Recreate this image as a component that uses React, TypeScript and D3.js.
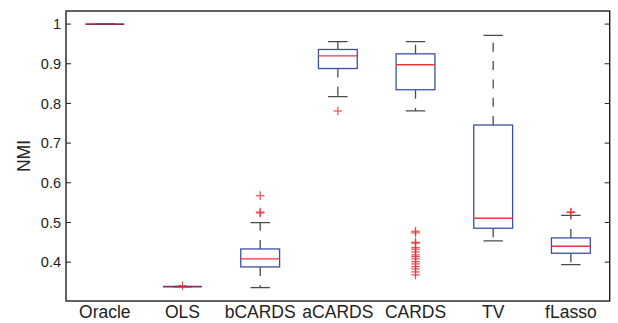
import React from "react";
import * as d3 from "d3";

// Methods compared, in plotting order
const methods = ["Oracle", "OLS", "bCARDS", "aCARDS", "CARDS", "TV", "fLasso"];

// Five-number summaries per method (whisker ends, quartiles, median)
const lowerWhisker = [1.0, 0.3383, 0.3358, 0.817, 0.781, 0.4534, 0.3937];
const lowerQuartile = [1.0, 0.3383, 0.3879, 0.888, 0.8345, 0.4854, 0.4224];
const medians = [1.0, 0.3383, 0.408, 0.92, 0.8975, 0.5106, 0.44];
const upperQuartile = [1.0, 0.3383, 0.4332, 0.936, 0.925, 0.7456, 0.461];
const upperWhisker = [1.0, 0.3383, 0.4995, 0.956, 0.956, 0.9715, 0.518];

// Points beyond the whiskers
const outliers: number[][] = [
  [],
  [0.3405],
  [0.5675, 0.526, 0.524],
  [0.781],
  [
    0.4778, 0.4736, 0.4501, 0.4476, 0.4365, 0.4325, 0.4257, 0.4181, 0.4139,
    0.4081, 0.4013, 0.3955, 0.3887, 0.3829, 0.3753, 0.3678,
  ],
  [],
  [0.5265, 0.525],
];

const yTicks = [0.4, 0.5, 0.6, 0.7, 0.8, 0.9, 1];
const yLabel = "NMI";

const W = 618;
const H = 323;
const plot = { left: 66, right: 609.7, top: 11, bottom: 301 };

const BOX = "#3b4fa6";
const MED = "#e8383f";
const WHISK = "#4a4a4a";
const OUT = "#ee2d36";
const COLLAPSED = "#8c2d5c";
const AXIS = "#1e1e1e";
const FONT = "'Liberation Sans', Arial, Helvetica, sans-serif";

export default function App() {
  const x = d3
    .scalePoint<string>()
    .domain(methods)
    .range([plot.left, plot.right])
    .padding(0.5);
  const y = d3.scaleLinear().domain([0.302, 1.033]).range([plot.bottom, plot.top]);
  const step = x.step();
  const halfBox = step * 0.25;
  const halfCap = step * 0.125;
  const plus = 4.3;

  return (
    <svg
      width={W}
      height={H}
      style={{ position: "absolute", left: 0, top: 0, background: "#fff" }}
      fontFamily={FONT}
    >
      <defs>
        <clipPath id="plotClip">
          <rect
            x={plot.left}
            y={plot.top}
            width={plot.right - plot.left}
            height={plot.bottom - plot.top}
          />
        </clipPath>
      </defs>

      {/* boxes */}
      <g clipPath="url(#plotClip)">
        {methods.map((m, i) => {
          const cx = x(m) as number;
          const yq1 = y(lowerQuartile[i]);
          const yq3 = y(upperQuartile[i]);
          const ylo = y(lowerWhisker[i]);
          const yhi = y(upperWhisker[i]);
          const ymed = y(medians[i]);
          const collapsed = Math.abs(yq1 - yq3) < 0.5;
          return (
            <g key={m}>
              {/* whiskers */}
              {yhi < yq3 - 0.5 && (
                <line
                  x1={cx}
                  x2={cx}
                  y1={yq3}
                  y2={yhi}
                  stroke={WHISK}
                  strokeWidth={1.3}
                  strokeDasharray="9 9.3"
                />
              )}
              {ylo > yq1 + 0.5 && (
                <line
                  x1={cx}
                  x2={cx}
                  y1={yq1}
                  y2={ylo}
                  stroke={WHISK}
                  strokeWidth={1.3}
                  strokeDasharray="9 9.3"
                />
              )}
              <line x1={cx - halfCap} x2={cx + halfCap} y1={yhi} y2={yhi} stroke={WHISK} strokeWidth={1.3} />
              <line x1={cx - halfCap} x2={cx + halfCap} y1={ylo} y2={ylo} stroke={WHISK} strokeWidth={1.3} />
              {collapsed ? (
                <line
                  x1={cx - halfBox}
                  x2={cx + halfBox}
                  y1={ymed}
                  y2={ymed}
                  stroke={COLLAPSED}
                  strokeWidth={1.8}
                />
              ) : (
                <>
                  <rect
                    x={cx - halfBox}
                    y={yq3}
                    width={halfBox * 2}
                    height={yq1 - yq3}
                    fill="none"
                    stroke={BOX}
                    strokeWidth={1.3}
                  />
                  <line
                    x1={cx - halfBox}
                    x2={cx + halfBox}
                    y1={ymed}
                    y2={ymed}
                    stroke={MED}
                    strokeWidth={1.3}
                  />
                </>
              )}
              {outliers[i].map((v, k) => (
                <g key={k} stroke={OUT} strokeWidth={1.2} opacity={0.85}>
                  <line x1={cx - plus} x2={cx + plus} y1={y(v)} y2={y(v)} />
                  <line x1={cx} x2={cx} y1={y(v) - plus} y2={y(v) + plus} />
                </g>
              ))}
            </g>
          );
        })}
      </g>

      {/* frame */}
      <rect
        x={plot.left}
        y={plot.top}
        width={plot.right - plot.left}
        height={plot.bottom - plot.top}
        fill="none"
        stroke={AXIS}
        strokeWidth={1.4}
      />

      {/* y ticks on both sides */}
      {yTicks.map((t) => (
        <g key={t}>
          <line x1={plot.left} x2={plot.left + 5} y1={y(t)} y2={y(t)} stroke={AXIS} strokeWidth={1} />
          <line x1={plot.right - 5} x2={plot.right} y1={y(t)} y2={y(t)} stroke={AXIS} strokeWidth={1} />
          <text
            x={plot.left - 5}
            y={y(t)}
            dy="0.35em"
            textAnchor="end"
            fontSize={14.5}
            fill="#222"
          >
            {d3.format("~g")(t)}
          </text>
        </g>
      ))}

      {/* category labels */}
      {methods.map((m) => (
        <text
          key={m}
          x={x(m) as number}
          y={318}
          textAnchor="middle"
          fontSize={17.5}
          fill="#222"
        >
          {m}
        </text>
      ))}

      <text
        transform={`translate(30,156) rotate(-90)`}
        textAnchor="middle"
        fontSize={17.5}
        fill="#222"
      >
        {yLabel}
      </text>
    </svg>
  );
}
